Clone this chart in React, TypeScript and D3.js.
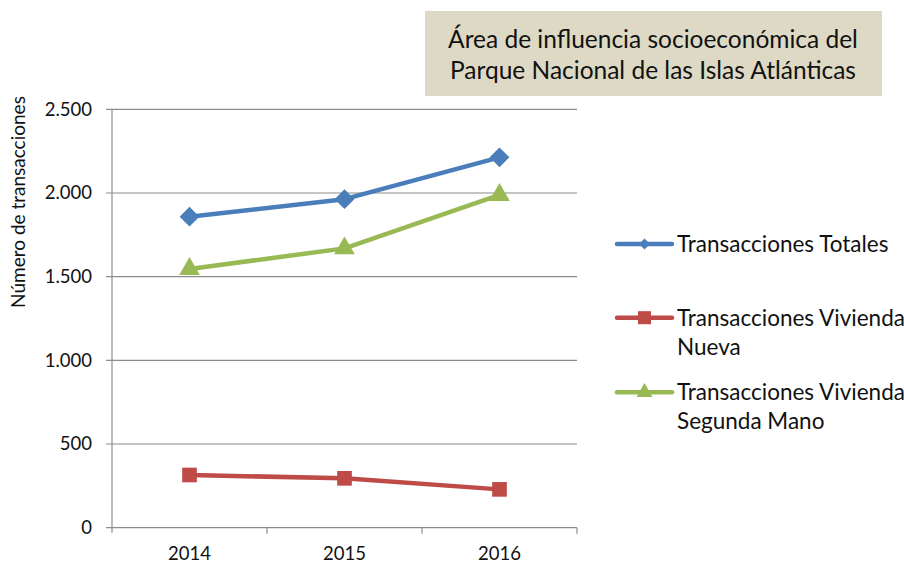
import React from "react";
import * as d3 from "d3";

const years = ["2014", "2015", "2016"];
const totales = [1858, 1963, 2213];
const nueva = [315, 295, 229];
const segunda = [1546, 1669, 1988];
const yTicks = [0, 500, 1000, 1500, 2000, 2500];
const titleLines = ["Área de influencia socioeconómica del", "Parque Nacional de las Islas Atlánticas"];
const seriesNames = ["Transacciones Totales", "Transacciones Vivienda|Nueva", "Transacciones Vivienda|Segunda Mano"];

const W = 904, H = 564;
const FONT = "Lato, 'Open Sans', sans-serif";

export default function App() {
  const x0 = 112, x1 = 577, yTop = 109.3, yBot = 527.7;
  const x = d3.scaleBand().domain(years).range([x0, x1]);
  const y = d3.scaleLinear().domain([0, 2500]).range([yBot, yTop]);
  const cx = (d: string) => (x(d) as number) + x.bandwidth() / 2;
  const fmt = (v: number) => d3.format(",")(v).replace(/,/g, ".");
  const series = [
    { vals: totales, color: "#4a7ebb", marker: "diamond" },
    { vals: nueva, color: "#be4b48", marker: "square" },
    { vals: segunda, color: "#98b954", marker: "triangle" },
  ];
  const line = d3.line<number>().x((_, i) => cx(years[i])).y((v) => y(v));
  const markerPath = (m: string, legend: boolean) => {
    const s = m === "triangle" ? d3.symbolTriangle : d3.symbolSquare;
    const size = legend
      ? (m === "diamond" ? 60 : m === "square" ? 170 : 110)
      : (m === "diamond" ? 195 : m === "square" ? 215 : 185);
    return d3.symbol(s, size)() as string;
  };
  const markerRot = (m: string) => (m === "diamond" ? " rotate(45)" : "");
  const legendY = [244, 317.7, 392.3];

  return (
    <svg width={W} height={H} style={{ position: "absolute", left: 0, top: 0, background: "#fff" }}>
      <rect x={0} y={0} width={W} height={H} fill="#fff" />
      <rect x={425} y={11} width={457} height={85} fill="#ddd9c4" />
      {titleLines.map((t, i) => (
        <text key={i} x={653} y={48 + i * 31} textAnchor="middle" fontFamily={FONT} fontSize={24.5} fill="#111">{t}</text>
      ))}
      {yTicks.map((t) => (
        <g key={t}>
          <line x1={106} x2={x1} y1={y(t)} y2={y(t)} stroke="#8c8c8c" strokeWidth={1.2} />
          <text x={92} y={y(t)} dy="0.35em" textAnchor="end" fontFamily={FONT} fontSize={18.5} fill="#111">{fmt(t)}</text>
        </g>
      ))}
      <line x1={x0} x2={x0} y1={yTop} y2={yBot + 5} stroke="#8c8c8c" strokeWidth={1.2} />
      {years.map((d) => (
        <g key={d}>
          <line x1={(x(d) as number) + x.bandwidth()} x2={(x(d) as number) + x.bandwidth()} y1={yBot} y2={yBot + 6} stroke="#8c8c8c" strokeWidth={1.2} />
          <text x={cx(d)} y={560} textAnchor="middle" fontFamily={FONT} fontSize={18.5} fill="#111">{d}</text>
        </g>
      ))}
      <text transform="translate(25,202) rotate(-90)" textAnchor="middle" fontFamily={FONT} fontSize={19} fill="#111">Número de transacciones</text>
      {series.map((s, si) => (
        <g key={si}>
          <path d={line(s.vals) as string} fill="none" stroke={s.color} strokeWidth={4.5} strokeLinejoin="round" />
          {s.vals.map((v, i) => (
            <path key={i} d={markerPath(s.marker, false)} transform={`translate(${cx(years[i])},${y(v)})${markerRot(s.marker)}`} fill={s.color} />
          ))}
        </g>
      ))}
      {series.map((s, si) => (
        <g key={si}>
          <line x1={617} x2={672} y1={legendY[si]} y2={legendY[si]} stroke={s.color} strokeWidth={4.5} strokeLinecap="round" />
          <path d={markerPath(s.marker, true)} transform={`translate(644.5,${legendY[si]})${markerRot(s.marker)}`} fill={s.color} />
          {seriesNames[si].split("|").map((t, li) => (
            <text key={li} x={677} y={legendY[si] + li * 29} dy="0.35em" fontFamily={FONT} fontSize={22.5} fill="#111">{t}</text>
          ))}
        </g>
      ))}
    </svg>
  );
}
